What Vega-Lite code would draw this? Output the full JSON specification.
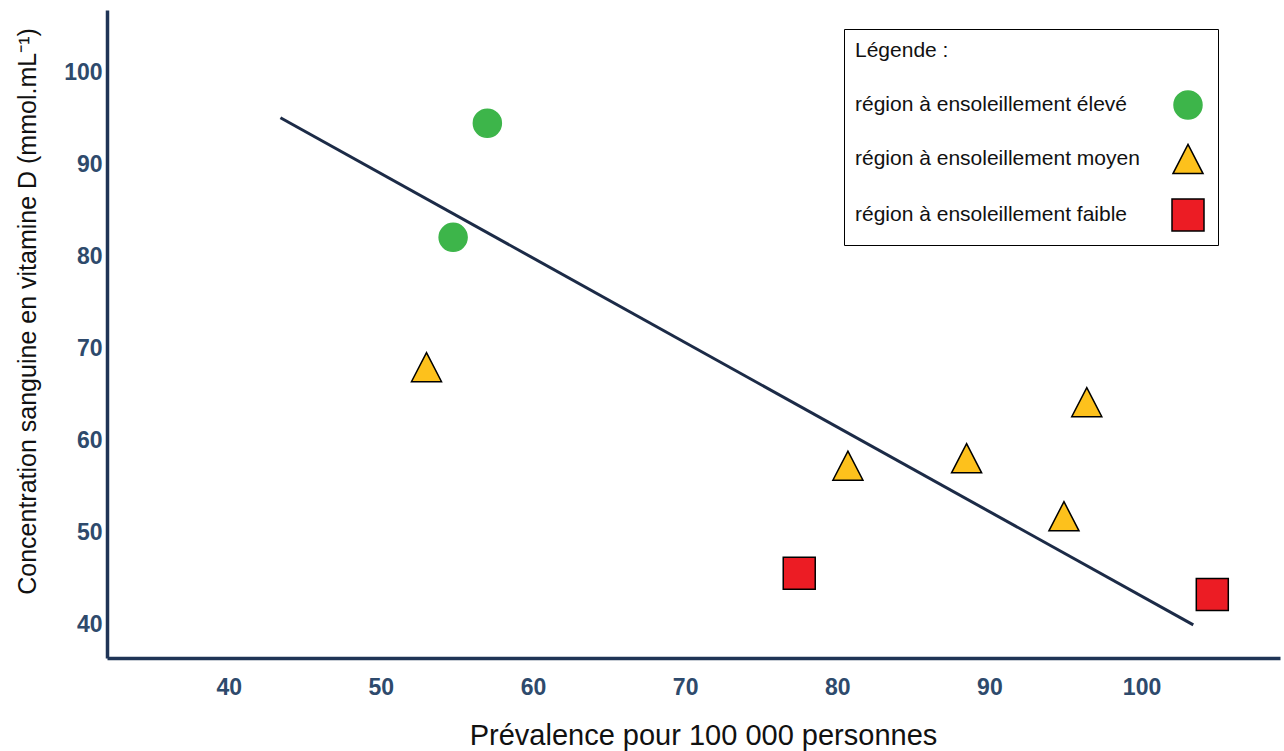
{
  "$schema": "https://vega.github.io/schema/vega-lite/v6.json",
  "width": 1173,
  "height": 648,
  "autosize": {"type": "none"},
  "padding": {"left": 107, "top": 10, "right": 4, "bottom": 93},
  "background": "white",
  "config": {
    "view": {"stroke": null},
    "font": "Liberation Sans",
    "axis": {
      "domainColor": "#1f3456",
      "domainWidth": 3.5,
      "ticks": false,
      "grid": false,
      "labelFont": "Liberation Sans",
      "labelFontSize": 23,
      "labelFontWeight": "bold",
      "labelColor": "#2e4a6c",
      "titleFont": "Liberation Sans",
      "titleFontWeight": "normal",
      "titleColor": "#111111"
    }
  },
  "datasets": {
    "points": [
      {"prevalence": 57.0, "concentration": 94.5, "region": "région à ensoleillement élevé"},
      {"prevalence": 54.75, "concentration": 82.1, "region": "région à ensoleillement élevé"},
      {"prevalence": 53.0, "concentration": 68.0, "region": "région à ensoleillement moyen"},
      {"prevalence": 80.7, "concentration": 57.3, "region": "région à ensoleillement moyen"},
      {"prevalence": 88.5, "concentration": 58.1, "region": "région à ensoleillement moyen"},
      {"prevalence": 96.4, "concentration": 64.2, "region": "région à ensoleillement moyen"},
      {"prevalence": 94.9, "concentration": 51.8, "region": "région à ensoleillement moyen"},
      {"prevalence": 77.5, "concentration": 45.6, "region": "région à ensoleillement faible"},
      {"prevalence": 104.65, "concentration": 43.3, "region": "région à ensoleillement faible"}
    ],
    "trend": [
      {"prevalence": 43.4, "concentration": 95.1},
      {"prevalence": 103.4, "concentration": 40.0}
    ]
  },
  "layer": [
    {
      "data": {"name": "trend"},
      "mark": {"type": "line", "color": "#1c2b47", "strokeWidth": 3},
      "encoding": {
        "x": {
          "field": "prevalence", "type": "quantitative",
          "scale": {"domain": [32, 109.1], "nice": false, "zero": false},
          "axis": {
            "values": [40, 50, 60, 70, 80, 90, 100],
            "labelPadding": 18,
            "title": "Prévalence pour 100 000 personnes",
            "titleFontSize": 29,
            "titleX": 596,
            "titleY": 77,
            "titleBaseline": "middle",
            "titleAlign": "center"
          }
        },
        "y": {
          "field": "concentration", "type": "quantitative",
          "scale": {"domain": [36.4, 106.8], "nice": false, "zero": false},
          "axis": {
            "values": [40, 50, 60, 70, 80, 90, 100],
            "labelPadding": 5,
            "title": "Concentration sanguine en vitamine D (mmol.mL⁻¹)",
            "titleFontSize": 25,
            "titleAngle": -90,
            "titleX": -80,
            "titleY": 301,
            "titleBaseline": "middle",
            "titleAlign": "center"
          }
        }
      }
    },
    {
      "data": {"name": "points"},
      "mark": {"type": "point", "filled": true, "opacity": 1, "strokeWidth": 1.5},
      "encoding": {
        "x": {"field": "prevalence", "type": "quantitative"},
        "y": {"field": "concentration", "type": "quantitative"},
        "color": {
          "field": "region", "type": "nominal",
          "scale": {
            "domain": ["région à ensoleillement élevé", "région à ensoleillement moyen", "région à ensoleillement faible"],
            "range": ["#3db54a", "#fdc11c", "#ec1c24"]
          },
          "legend": {
            "title": "Légende :",
            "orient": "none",
            "legendX": 737,
            "legendY": 19,
            "padding": 11,
            "fillColor": "white",
            "strokeColor": "black",
            "titleFont": "Liberation Sans",
            "titleFontSize": 21,
            "titleFontWeight": "normal",
            "titleColor": "#111111",
            "titlePadding": 29,
            "labelFont": "Liberation Sans",
            "labelFontSize": 21,
            "labelColor": "#111111",
            "labelLimit": 400,
            "labelOffset": -350,
            "symbolOffset": 316,
            "rowPadding": 19,
            "symbolStrokeWidth": 1.5
          }
        },
        "stroke": {
          "field": "region", "type": "nominal",
          "scale": {
            "domain": ["région à ensoleillement élevé", "région à ensoleillement moyen", "région à ensoleillement faible"],
            "range": ["#3db54a", "#000000", "#000000"]
          }
        },
        "shape": {
          "field": "region", "type": "nominal",
          "scale": {
            "domain": ["région à ensoleillement élevé", "région à ensoleillement moyen", "région à ensoleillement faible"],
            "range": ["circle", "M0,-0.97L1,0.97L-1,0.97Z", "square"]
          }
        },
        "size": {
          "field": "region", "type": "nominal",
          "scale": {
            "domain": ["région à ensoleillement élevé", "région à ensoleillement moyen", "région à ensoleillement faible"],
            "range": [784, 1024, 1225]
          }
        }
      }
    },
    {
      "mark": {"type": "point", "shape": "triangle-right", "filled": true, "color": "#1f3456", "opacity": 1, "size": 170, "clip": false},
      "encoding": {
        "x": {"datum": 108.7, "type": "quantitative"},
        "y": {"datum": 36.4, "type": "quantitative"}
      }
    },
    {
      "mark": {"type": "point", "shape": "triangle-up", "filled": true, "color": "#1f3456", "opacity": 1, "size": 170, "clip": false},
      "encoding": {
        "x": {"datum": 32, "type": "quantitative"},
        "y": {"datum": 106.4, "type": "quantitative"}
      }
    }
  ]
}
